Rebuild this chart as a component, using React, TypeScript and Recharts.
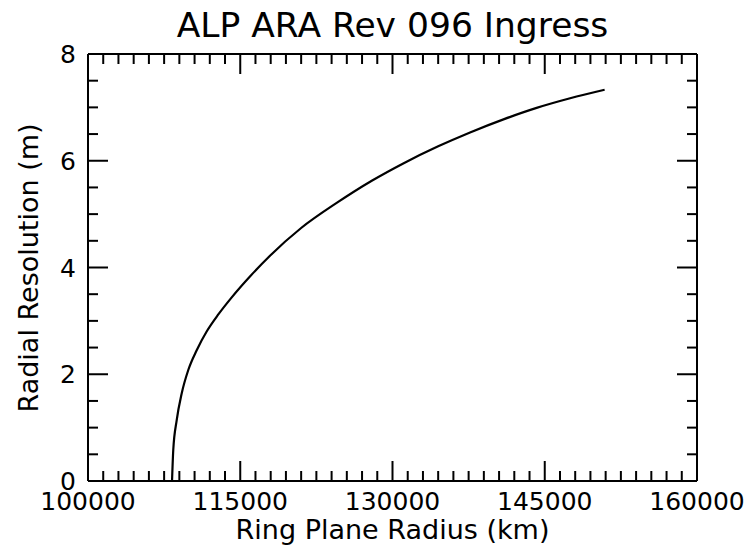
import { LineChart, Line, XAxis, YAxis } from "recharts";

// ring plane radius (km) and radial resolution (m)
const radius = [
  108280, 108400, 108740, 109230, 109880, 110710, 111690, 112840, 114160, 116000, 117930,
  121000, 124500, 128000, 131060, 134500, 137640, 141000, 144200, 147500, 150900,
];
const resolution = [
  0, 0.58, 1.14, 1.64, 2.08, 2.45, 2.8, 3.12, 3.44, 3.84, 4.22,
  4.74, 5.21, 5.63, 5.95, 6.27, 6.53, 6.78, 6.99, 7.17, 7.33,
];

const xMajor = [100000, 115000, 130000, 145000, 160000];
const yMajor = [0, 2, 4, 6, 8];
const xTicks = Array.from({ length: 41 }, (_, i) => 100000 + i * 1500);
const yTicks = Array.from({ length: 17 }, (_, i) => i * 0.5);

const data = radius.map((r, i) => ({ r, res: resolution[i] }));

const FONT = "DejaVu Sans, sans-serif";
const MAJOR = 20;
const MINOR = 10;

const W = 752;
const H = 545;
// plot box: left 88, right 697, top 54, bottom 481 (axes take 1px each)
const M = { top: 53, right: 54, bottom: 63, left: 87 };

function BottomTick({ x, y, payload }: any) {
  const major = xMajor.includes(payload.value);
  return (
    <g>
      <line x1={x} x2={x} y1={y} y2={y - (major ? MAJOR : MINOR)} stroke="#000" strokeWidth={2} />
      {major && (
        <text x={x} y={y + 29} textAnchor="middle" fontSize={25} fontFamily={FONT} fill="#000">
          {payload.value}
        </text>
      )}
    </g>
  );
}

function TopTick({ x, y, payload }: any) {
  const major = xMajor.includes(payload.value);
  return <line x1={x} x2={x} y1={y} y2={y + (major ? MAJOR : MINOR)} stroke="#000" strokeWidth={2} />;
}

function LeftTick({ x, y, payload }: any) {
  const major = yMajor.includes(payload.value);
  return (
    <g>
      <line x1={x} x2={x + (major ? MAJOR : MINOR)} y1={y} y2={y} stroke="#000" strokeWidth={2} />
      {major && (
        <text x={x - 12} y={y + 9} textAnchor="end" fontSize={25} fontFamily={FONT} fill="#000">
          {payload.value}
        </text>
      )}
    </g>
  );
}

function RightTick({ x, y, payload }: any) {
  const major = yMajor.includes(payload.value);
  return <line x1={x} x2={x - (major ? MAJOR : MINOR)} y1={y} y2={y} stroke="#000" strokeWidth={2} />;
}

const axisLine = { stroke: "#000", strokeWidth: 2 };

export default function App() {
  const cx = (88 + 697) / 2;
  const cy = 268;
  return (
    <div style={{ position: "absolute", left: 0, top: 0, width: W, height: H, background: "#fff" }}>
      <LineChart width={W} height={H} data={data} margin={M}>
        <XAxis
          dataKey="r"
          type="number"
          domain={[100000, 160000]}
          ticks={xTicks}
          interval={0}
          height={1}
          tickSize={0}
          tickMargin={0}
          tickLine={false}
          axisLine={axisLine}
          tick={BottomTick}
          allowDataOverflow
        />
        <XAxis
          xAxisId="top"
          orientation="top"
          dataKey="r"
          type="number"
          domain={[100000, 160000]}
          ticks={xTicks}
          interval={0}
          height={1}
          tickSize={0}
          tickMargin={0}
          tickLine={false}
          axisLine={axisLine}
          tick={TopTick}
          allowDataOverflow
        />
        <YAxis
          type="number"
          domain={[0, 8]}
          ticks={yTicks}
          interval={0}
          width={1}
          tickSize={0}
          tickMargin={0}
          tickLine={false}
          axisLine={axisLine}
          tick={LeftTick}
          allowDataOverflow
        />
        <YAxis
          yAxisId="right"
          orientation="right"
          type="number"
          domain={[0, 8]}
          ticks={yTicks}
          interval={0}
          width={1}
          tickSize={0}
          tickMargin={0}
          tickLine={false}
          axisLine={axisLine}
          tick={RightTick}
          allowDataOverflow
        />
        <Line
          type="monotone"
          dataKey="res"
          stroke="#000"
          strokeWidth={2.2}
          dot={false}
          isAnimationActive={false}
        />
      </LineChart>
      <svg
        width={W}
        height={H}
        style={{ position: "absolute", left: 0, top: 0, pointerEvents: "none" }}
      >
        <text x={cx} y={37} textAnchor="middle" fontSize={34.5} fontFamily={FONT} fill="#000">
          ALP ARA Rev 096 Ingress
        </text>
        <text x={cx} y={539} textAnchor="middle" fontSize={27} fontFamily={FONT} fill="#000">
          Ring Plane Radius (km)
        </text>
        <text
          x={38}
          y={cy}
          transform={`rotate(-90 38 ${cy})`}
          textAnchor="middle"
          fontSize={27}
          fontFamily={FONT}
          fill="#000"
        >
          Radial Resolution (m)
        </text>
      </svg>
    </div>
  );
}
